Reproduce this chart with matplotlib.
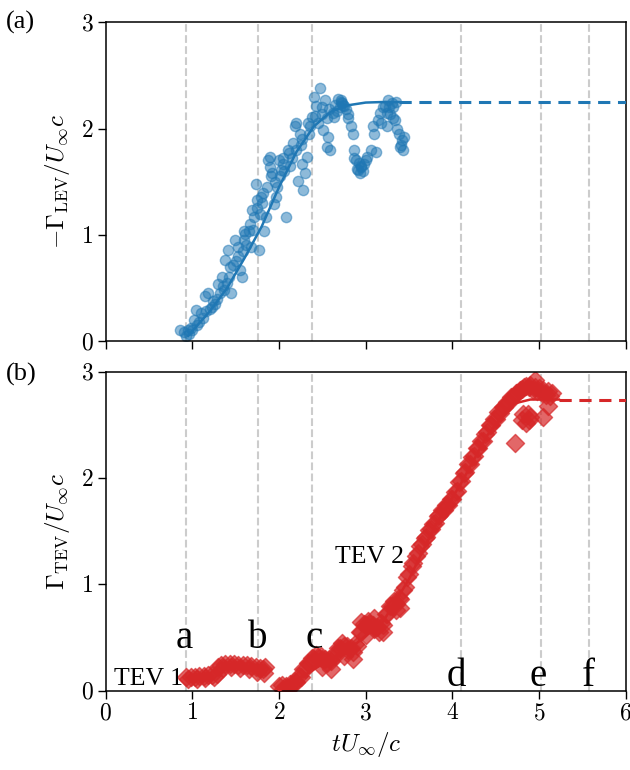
import numpy as np
import matplotlib
matplotlib.use('Agg')
import matplotlib.pyplot as plt
from matplotlib.ticker import FuncFormatter

plt.rcParams['mathtext.fontset'] = 'cm'
plt.rcParams['font.family'] = 'serif'
plt.rcParams['font.serif'] = ['Liberation Serif', 'DejaVu Serif']

# tempos das linhas verticais (instantes a-f)
t_marks = [0.93, 1.76, 2.38, 4.10, 5.02, 5.58]
letters = ['a', 'b', 'c', 'd', 'e', 'f']
letter_x = [0.91, 1.75, 2.40, 4.05, 4.99, 5.57]
letter_y = [0.40, 0.40, 0.40, 0.04, 0.04, 0.04]

# circulacao LEV (pontos medidos)
lev_pts = [(0.86, 0.10), (0.90, 0.09), (0.96, 0.07), (0.98, 0.12), (1.00, 0.10),
           (1.02, 0.20), (1.04, 0.29), (1.05, 0.15), (1.10, 0.26), (1.12, 0.22),
           (1.14, 0.42), (1.18, 0.45), (1.20, 0.30), (1.22, 0.32), (1.26, 0.35),
           (1.28, 0.40), (1.30, 0.54), (1.34, 0.60), (1.35, 0.52), (1.36, 0.48),
           (1.37, 0.76), (1.41, 0.86), (1.42, 0.60), (1.43, 0.70), (1.45, 0.45),
           (1.49, 0.95), (1.50, 0.75), (1.53, 0.89), (1.55, 0.67), (1.57, 0.60),
           (1.58, 0.85), (1.59, 1.04), (1.61, 1.01), (1.62, 0.90), (1.65, 1.04),
           (1.67, 0.89), (1.69, 1.23), (1.70, 1.05), (1.71, 1.17), (1.73, 1.48),
           (1.75, 1.33), (1.77, 0.86), (1.78, 1.20), (1.79, 1.36), (1.81, 1.39),
           (1.83, 1.04), (1.85, 1.17), (1.87, 1.70), (1.89, 1.64), (1.90, 1.73),
           (1.92, 1.58), (1.94, 1.29), (1.95, 1.50), (1.96, 1.36), (1.98, 1.45),
           (2.00, 1.70), (2.02, 1.61), (2.04, 1.67), (2.06, 1.60), (2.08, 1.17),
           (2.10, 1.80), (2.12, 1.77), (2.15, 1.72), (2.16, 1.86), (2.18, 2.02),
           (2.20, 2.05), (2.22, 1.51), (2.24, 1.95), (2.25, 1.85), (2.26, 1.67),
           (2.28, 1.42), (2.30, 1.58), (2.32, 1.73), (2.34, 1.95), (2.36, 2.02),
           (2.38, 2.11), (2.40, 2.30), (2.43, 2.21), (2.45, 2.05), (2.47, 2.38),
           (2.49, 2.14), (2.51, 1.99), (2.53, 2.27), (2.55, 1.83), (2.55, 2.10),
           (2.57, 1.92), (2.59, 1.80), (2.62, 2.15), (2.63, 2.11), (2.67, 2.17),
           (2.70, 2.20), (2.71, 2.27), (2.72, 2.25), (2.73, 2.24), (2.75, 2.21),
           (2.77, 2.18), (2.79, 2.14), (2.83, 2.02), (2.85, 1.95), (2.87, 1.80),
           (2.89, 1.70), (2.90, 1.62), (2.91, 1.61), (2.93, 1.58), (2.94, 1.65),
           (2.95, 1.64), (2.98, 1.67), (3.02, 1.73), (3.06, 1.80), (3.08, 2.02),
           (3.10, 1.95), (3.12, 1.78), (3.14, 2.08), (3.18, 2.05), (3.20, 2.20),
           (3.22, 2.21), (3.24, 2.02), (3.25, 2.15), (3.26, 2.27), (3.28, 2.14),
           (3.30, 2.24), (3.32, 2.20), (3.34, 2.08), (3.35, 2.25), (3.38, 1.95),
           (3.40, 1.83), (3.42, 1.89), (3.44, 1.92),
           (0.92, 0.05), (0.95, 0.10), (1.08, 0.18), (1.16, 0.28), (1.24, 0.38),
           (1.32, 0.45), (1.40, 0.55), (1.47, 0.72), (1.52, 0.80), (1.60, 0.95),
           (1.66, 1.10), (1.74, 1.25), (1.80, 1.30), (1.86, 1.45), (1.91, 1.55),
           (2.01, 1.55), (2.05, 1.72), (2.13, 1.65), (2.19, 1.80), (2.27, 1.90),
           (2.33, 2.05), (2.42, 2.12), (2.50, 2.20), (2.58, 2.18), (2.65, 2.22),
           (2.68, 2.28), (2.74, 2.22), (2.80, 2.10), (2.86, 1.72), (2.92, 1.68),
           (2.97, 1.60), (3.00, 1.70), (3.16, 2.15), (3.27, 2.20), (3.31, 2.10),
           (3.36, 2.00), (3.41, 1.85), (3.43, 1.80)]

# ajuste LEV
lev_fit_t = [0.95, 1.2, 1.4, 1.6, 1.8, 2.0, 2.2, 2.4, 2.6, 2.8, 3.0, 3.2, 3.38]
lev_fit_g = [0.05, 0.28, 0.50, 0.78, 1.08, 1.45, 1.78, 2.02, 2.16, 2.22, 2.245, 2.25, 2.25]
lev_final = 2.25

# circulacao TEV 1 (pontos medidos)
tev1_pts = [(0.93, 0.13), (0.98, 0.13), (1.03, 0.13), (1.08, 0.14), (1.13, 0.14),
            (1.18, 0.15), (1.23, 0.15), (1.28, 0.16), (1.30, 0.22), (1.33, 0.24),
            (1.38, 0.25), (1.43, 0.25), (1.48, 0.25), (1.53, 0.24), (1.58, 0.24),
            (1.63, 0.24), (1.68, 0.23), (1.73, 0.22), (1.78, 0.21), (1.82, 0.20),
            (0.95, 0.11), (1.05, 0.11), (1.15, 0.12), (1.25, 0.13), (1.35, 0.21),
            (1.45, 0.22), (1.55, 0.21), (1.65, 0.20), (1.75, 0.18), (1.83, 0.17),
            (1.84, 0.22)]

# circulacao TEV 2 (pontos medidos)
tev2_pts = [(2.00, 0.04), (2.05, 0.02), (2.10, 0.03), (2.15, 0.05), (2.20, 0.08),
            (2.25, 0.13), (2.30, 0.20), (2.35, 0.25), (2.40, 0.30), (2.45, 0.32),
            (2.50, 0.30), (2.55, 0.26), (2.60, 0.28), (2.65, 0.33), (2.70, 0.40),
            (2.75, 0.42), (2.80, 0.38), (2.85, 0.36), (2.90, 0.42), (2.95, 0.55),
            (3.00, 0.62), (3.05, 0.63), (3.10, 0.58), (3.15, 0.55), (3.20, 0.62),
            (3.25, 0.72), (3.30, 0.80), (3.35, 0.82), (3.40, 0.86), (3.45, 0.98),
            (3.50, 1.10), (3.55, 1.20), (3.60, 1.30), (3.65, 1.38), (3.70, 1.45),
            (3.75, 1.52), (3.80, 1.58), (3.85, 1.65), (3.90, 1.70), (3.95, 1.75),
            (4.00, 1.80), (4.05, 1.88), (4.10, 1.97), (4.15, 2.06), (4.20, 2.13),
            (4.25, 2.21), (4.30, 2.28), (4.35, 2.35), (4.40, 2.43), (4.45, 2.50),
            (4.50, 2.56), (4.55, 2.61), (4.60, 2.67), (4.65, 2.72), (4.70, 2.76),
            (4.75, 2.80), (4.80, 2.84), (4.85, 2.87), (4.90, 2.88), (4.95, 2.86),
            (5.00, 2.85), (5.05, 2.83), (5.10, 2.82), (5.15, 2.80),
            (2.03, 0.05), (2.08, 0.04), (2.13, 0.06), (2.18, 0.09), (2.23, 0.14),
            (2.28, 0.20), (2.33, 0.26), (2.38, 0.31), (2.43, 0.34), (2.48, 0.33),
            (2.53, 0.30), (2.58, 0.30), (2.63, 0.34), (2.68, 0.40), (2.73, 0.45),
            (2.78, 0.42), (2.83, 0.40), (2.88, 0.44), (2.93, 0.55), (2.98, 0.63),
            (3.03, 0.66), (3.08, 0.62), (3.13, 0.60), (3.18, 0.64), (3.23, 0.72),
            (3.28, 0.80), (3.33, 0.84), (3.38, 0.87), (3.43, 0.95), (3.48, 1.07),
            (3.53, 1.17), (3.58, 1.27), (3.63, 1.36), (3.68, 1.44), (3.73, 1.51),
            (3.78, 1.57), (3.83, 1.64), (3.88, 1.70), (3.93, 1.75), (3.98, 1.80),
            (4.03, 1.87), (4.08, 1.96), (4.13, 2.05), (4.18, 2.13), (4.23, 2.20),
            (4.28, 2.28), (4.33, 2.35), (4.38, 2.42), (4.43, 2.50), (4.48, 2.56),
            (4.53, 2.62), (4.58, 2.67), (4.63, 2.72), (4.68, 2.76), (4.73, 2.80),
            (4.78, 2.83), (4.83, 2.86), (4.88, 2.86), (4.93, 2.83), (4.98, 2.82),
            (5.03, 2.80), (5.08, 2.78), (5.13, 2.77),
            (2.95, 0.65), (3.00, 0.52), (3.10, 0.68), (3.20, 0.55), (2.75, 0.33),
            (2.85, 0.30), (2.50, 0.22), (2.60, 0.20), (3.35, 0.76), (3.40, 0.78),
            (4.80, 2.55), (4.85, 2.52), (4.90, 2.58), (4.82, 2.60), (4.88, 2.55),
            (4.72, 2.33), (5.05, 2.58), (5.10, 2.68), (4.95, 2.92), (4.87, 2.60)]

# ajuste TEV
tev_fit_t = [2.0, 2.3, 2.6, 2.9, 3.2, 3.5, 3.8, 4.1, 4.4, 4.7, 4.9, 5.05, 5.23]
tev_fit_g = [0.0, 0.15, 0.30, 0.45, 0.65, 1.05, 1.55, 1.95, 2.40, 2.70, 2.74, 2.74, 2.74]
tev_final = 2.74

blue = '#1f77b4'
red = '#d62728'

fig = plt.figure(figsize=(6.3, 7.7), dpi=100)
ax1 = fig.add_axes([0.168, 0.557, 0.825, 0.414])
ax2 = fig.add_axes([0.168, 0.103, 0.825, 0.414])

fmt = FuncFormatter(lambda v, p: f'${v:g}$')

for ax in (ax1, ax2):
    for tm in t_marks:
        ax.axvline(tm, color='#cccccc', ls='--', lw=1.5, zorder=0)
    ax.set_xlim(0, 6)
    ax.set_ylim(0, 3)
    ax.set_xticks([0, 1, 2, 3, 4, 5, 6])
    ax.set_yticks([0, 1, 2, 3])
    ax.yaxis.set_major_formatter(fmt)
    ax.xaxis.set_major_formatter(fmt)
    ax.tick_params(direction='out', length=5.5, width=1, labelsize=17)
    for s in ax.spines.values():
        s.set_linewidth(1.1)

ax1.tick_params(labelbottom=False)

# painel (a)
lt, lg = zip(*lev_pts)
ax1.scatter(lt, lg, s=55, color=blue, alpha=0.5, edgecolors=blue, linewidths=1, zorder=2)
ax1.plot(lev_fit_t, lev_fit_g, color=blue, lw=1.8, zorder=3)
ax1.plot([lev_fit_t[-1], 6], [lev_final, lev_final], color=blue, lw=2.2, ls=(0, (4, 2.5)), zorder=3)
ax1.set_ylabel(r'$-\Gamma_{\rm LEV}/U_\infty c$', fontsize=18, labelpad=6)

# painel (b)
t1, g1 = zip(*tev1_pts)
t2, g2 = zip(*tev2_pts)
ax2.scatter(t1, g1, s=85, marker='D', color=red, alpha=0.7, edgecolors=red, linewidths=1, zorder=2)
ax2.scatter(t2, g2, s=85, marker='D', color=red, alpha=0.7, edgecolors=red, linewidths=1, zorder=2)
ax2.plot(tev_fit_t, tev_fit_g, color=red, lw=1.8, zorder=3)
ax2.plot([tev_fit_t[-1], 6], [tev_final, tev_final], color=red, lw=2.2, ls=(0, (4, 2.5)), zorder=3)
ax2.set_ylabel(r'$\Gamma_{\rm TEV}/U_\infty c$', fontsize=18, labelpad=6)
ax2.set_xlabel(r'$tU_\infty/c$', fontsize=18)

for l, lx, ly in zip(letters, letter_x, letter_y):
    ax2.text(lx, ly, l, fontsize=28, ha='center', va='baseline', zorder=5)
ax2.text(0.09, 0.05, 'TEV 1', fontsize=18.5, ha='left', va='baseline', zorder=5)
ax2.text(2.65, 1.2, 'TEV 2', fontsize=18.5, ha='left', va='baseline', zorder=5)

fig.text(0.010, 0.971, '(a)', fontsize=19, va='center', ha='left')
fig.text(0.010, 0.514, '(b)', fontsize=19, va='center', ha='left')

fig.savefig('out.png', dpi=100)
